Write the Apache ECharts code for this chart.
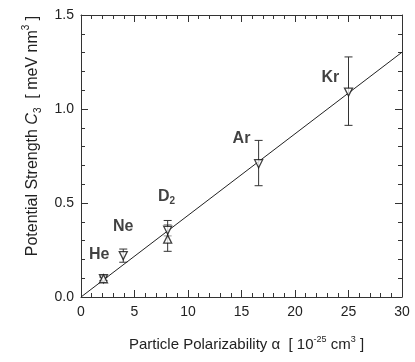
<!DOCTYPE html>
<html>
<head>
<meta charset="utf-8">
<script src="https://cdn.jsdelivr.net/npm/echarts@6/dist/echarts.min.js"></script>
<style>
  html, body { margin: 0; padding: 0; background: #fff; }
  #chart { width: 415px; height: 362px; }
</style>
</head>
<body>
<div id="chart"></div>
<script>
// measured points: [alpha, C3, errLow, errHigh]
var downPts = [
  [2.1, 0.097, 0.088, 0.106],   // He
  [3.95, 0.22, 0.185, 0.255],   // Ne
  [8.1, 0.355, 0.325, 0.385],   // D2
  [16.6, 0.709, 0.592, 0.833],  // Ar
  [25.0, 1.09, 0.913, 1.277]    // Kr
];
var upPts = [
  [2.1, 0.097, 0.088, 0.106],   // He
  [8.1, 0.308, 0.243, 0.407]    // D2
];
var fitLine = [[0, 0], [30, 1.302]];
var labelNames = ['He', 'Ne', 'D{sub|2}', 'Ar', 'Kr'];
var labelPos = [[1.7, 0.225], [3.95, 0.376], [8.0, 0.535], [15.0, 0.84], [23.3, 1.168]];

var chart = echarts.init(document.getElementById('chart'));
var font = 'Liberation Sans, Arial, sans-serif';

function errBars(color) {
  return function (params, api) {
    var x = api.value(0);
    var lo = api.coord([x, api.value(2)]);
    var hi = api.coord([x, api.value(3)]);
    var w = 4;
    var st = { stroke: color, lineWidth: 1 };
    return {
      type: 'group',
      children: [
        { type: 'line', shape: { x1: lo[0], y1: lo[1], x2: hi[0], y2: hi[1] }, style: st },
        { type: 'line', shape: { x1: lo[0] - w, y1: lo[1], x2: lo[0] + w, y2: lo[1] }, style: st },
        { type: 'line', shape: { x1: hi[0] - w, y1: hi[1], x2: hi[0] + w, y2: hi[1] }, style: st }
      ]
    };
  };
}

var tickCommon = {
  axisTick: { show: true, inside: true, length: 7, lineStyle: { color: '#333' } },
  minorTick: { show: true, splitNumber: 5, length: 4, lineStyle: { color: '#333' } },
  splitLine: { show: false },
  minorSplitLine: { show: false },
  axisLine: { show: true, onZero: false, lineStyle: { color: '#333', width: 1 } }
};

var txt = '#222';
var option = {
  backgroundColor: '#fff',
  animation: false,
  grid: { left: 81, right: 13, top: 15, bottom: 65 },
  xAxis: [
    Object.assign({
      type: 'value', min: 0, max: 30, interval: 5,
      axisLabel: { color: txt, fontSize: 14, fontFamily: font, margin: 8 },
      name: 'Particle Polarizability α  [ 10{sup|-25} cm{sup|3} ]',
      nameLocation: 'middle', nameGap: 38,
      nameTextStyle: { color: txt, fontSize: 15, fontFamily: font, lineHeight: 20, padding: [0, 0, 0, 10],
        rich: { sup: { fontSize: 9, fontFamily: font, color: txt, verticalAlign: 'top', lineHeight: 20 } } }
    }, tickCommon),
    Object.assign({
      type: 'value', min: 0, max: 30, interval: 5, position: 'top',
      axisLabel: { show: false }
    }, tickCommon)
  ],
  yAxis: [
    Object.assign({
      type: 'value', min: 0, max: 1.5, interval: 0.5,
      axisLabel: { color: txt, fontSize: 14, fontFamily: font, margin: 7,
        formatter: function (v) { return v.toFixed(1); } },
      name: 'Potential Strength {i|C}{sub|3}  [ meV nm{sup|3} ]',
      nameLocation: 'middle', nameGap: 36,
      nameTextStyle: { color: txt, fontSize: 16, fontFamily: font, lineHeight: 22, padding: [0, 0, 0, 40],
        rich: {
          i: { fontStyle: 'italic', fontSize: 16, fontFamily: font, color: txt, lineHeight: 22 },
          sub: { fontSize: 10, fontFamily: font, color: txt, verticalAlign: 'bottom', lineHeight: 22 },
          sup: { fontSize: 10, fontFamily: font, color: txt, verticalAlign: 'top', lineHeight: 22 }
        } }
    }, tickCommon),
    Object.assign({
      type: 'value', min: 0, max: 1.5, interval: 0.5, position: 'right',
      axisLabel: { show: false }
    }, tickCommon)
  ],
  series: [
    {
      type: 'line', data: fitLine, showSymbol: false, silent: true,
      lineStyle: { color: '#222', width: 1 }
    },
    {
      type: 'custom', data: downPts.slice(2, 3), renderItem: errBars('#999'), z: 3
    },
    {
      type: 'custom', data: downPts.filter(function (d, i) { return i !== 2; }).concat(upPts.slice(1)),
      renderItem: errBars('#333'), z: 3
    },
    {
      type: 'scatter', data: downPts, symbol: 'triangle', symbolRotate: 180, symbolSize: 8,
      itemStyle: { color: '#fff', borderColor: '#111', borderWidth: 1.3 }, z: 4
    },
    {
      type: 'scatter', data: upPts, symbol: 'triangle', symbolSize: 8,
      itemStyle: { color: '#fff', borderColor: '#111', borderWidth: 1.3 }, z: 5
    },
    {
      type: 'scatter', symbolSize: 0, silent: true,
      data: labelPos.map(function (p, i) { return { value: p, name: labelNames[i] }; }),
      label: {
        show: true, position: 'inside', formatter: '{b}', lineHeight: 20,
        color: '#111', fontSize: 16, fontWeight: 'bold', fontFamily: font,
        rich: { sub: { fontSize: 10, fontWeight: 'bold', fontFamily: font, color: '#111',
          verticalAlign: 'bottom', lineHeight: 20 } }
      }
    }
  ]
};
chart.setOption(option);
</script>
</body>
</html>
